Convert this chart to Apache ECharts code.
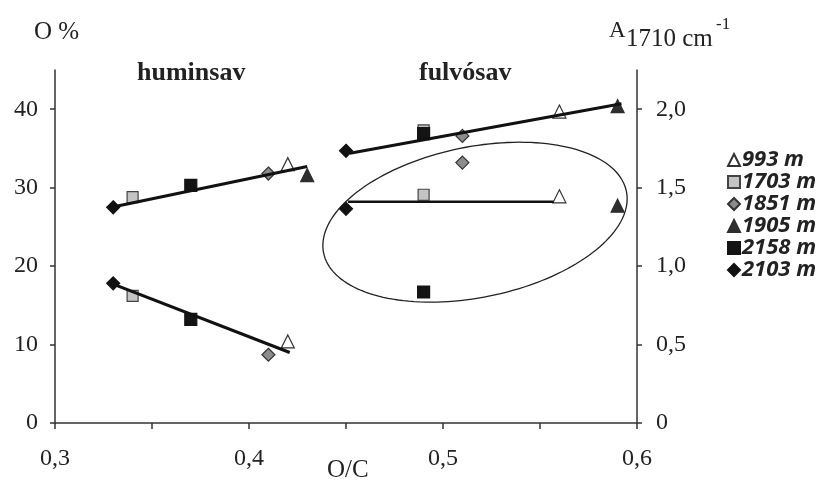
<!DOCTYPE html>
<html>
<head>
<meta charset="utf-8">
<script src="https://cdn.jsdelivr.net/npm/echarts@6/dist/echarts.min.js"></script>
<style>
  html, body { margin: 0; padding: 0; background: #fff; }
  #chart { width: 824px; height: 484px; }
</style>
</head>
<body>
<div id="chart"></div>
<script>
// Sampling depths (legend entries)
const sites = ['993 m', '1703 m', '1851 m', '1905 m', '2158 m', '2103 m'];

// Humic acid (huminsav): O/C ratio, oxygen content (O %) and A(1710 cm-1) per site
const ocHumin = [0.42, 0.34, 0.41, 0.43, 0.37, 0.33];
const oHumin  = [33.0, 28.8, 31.8, 31.6, 30.3, 27.5];
const aHumin  = [0.52, 0.81, 0.435, null, 0.66, 0.89];

// Fulvic acid (fulvósav): O/C ratio, oxygen content (O %) and A(1710 cm-1) per site
const ocFulvo = [0.56, 0.49, 0.51, 0.59, 0.49, 0.45];
const oFulvo  = [39.7, 37.3, 36.6, 40.4, 36.9, 34.7];
const aFulvo  = [1.445, 1.455, 1.66, 1.385, 0.835, 1.365];

// Fitted trend lines (end points)
const trendHuminO = [[0.331, 27.6], [0.430, 32.7]];
const trendHuminA = [[0.329, 0.89], [0.421, 0.45]];
const trendFulvoO = [[0.452, 34.4], [0.592, 40.7]];
const trendFulvoA = [[0.451, 1.41], [0.557, 1.41]];

// Axis ticks
const xTicks = [0.3, 0.35, 0.4, 0.45, 0.5, 0.55, 0.6];
const xLabels = [0.3, 0.4, 0.5, 0.6];
const oTicks = [0, 10, 20, 30, 40];
const aTicks = [0, 0.5, 1.0, 1.5, 2.0];

// Marker look for each depth
const markerStyles = [
  { symbol: 'triangle', size: 13, color: '#ffffff', border: '#333' },
  { symbol: 'rect',     size: 11, color: '#c4c4c4', border: '#444' },
  { symbol: 'diamond',  size: 13, color: '#8c8c8c', border: '#333' },
  { symbol: 'triangle', size: 13, color: '#2e2e2e', border: '#2e2e2e' },
  { symbol: 'rect',     size: 12, color: '#141414', border: '#141414' },
  { symbol: 'diamond',  size: 13, color: '#111111', border: '#111111' }
];

const comma = (v, digits) => v === 0 ? '0' : v.toFixed(digits).replace('.', ',');
const serif = '"Liberation Serif", "DejaVu Serif", serif';

const series = [];
sites.forEach((name, i) => {
  const st = markerStyles[i];
  const common = {
    type: 'scatter',
    name: name,
    symbol: st.symbol,
    symbolSize: st.size,
    itemStyle: { color: st.color, borderColor: st.border, borderWidth: 1.2, opacity: 1 },
    emphasis: { disabled: true },
    z: 2
  };
  series.push(Object.assign({}, common, {
    yAxisIndex: 0,
    data: [[ocHumin[i], oHumin[i]], [ocFulvo[i], oFulvo[i]]]
  }));
  const aPts = [];
  if (aHumin[i] !== null) aPts.push([ocHumin[i], aHumin[i]]);
  if (aFulvo[i] !== null) aPts.push([ocFulvo[i], aFulvo[i]]);
  series.push(Object.assign({}, common, { yAxisIndex: 1, data: aPts }));
});

const trend = (data, axis, width) => ({
  type: 'line',
  yAxisIndex: axis,
  data: data,
  symbol: 'none',
  silent: true,
  lineStyle: { color: '#111', width: width },
  z: 3
});
series.push(trend(trendHuminO, 0, 3.2));
series.push(trend(trendHuminA, 1, 3.2));
series.push(trend(trendFulvoO, 0, 3));
series.push(trend(trendFulvoA, 1, 2.5));

const axisLineStyle = { lineStyle: { color: '#333', width: 1.5 } };
const tickStyle = { lineStyle: { color: '#333', width: 1.5 } };
const tickFont = { fontFamily: serif, fontSize: 24, color: '#222' };

const chart = echarts.init(document.getElementById('chart'), null, { renderer: 'canvas' });
chart.setOption({
  animation: false,
  backgroundColor: '#ffffff',
  grid: { left: 55, right: 187, top: 70, bottom: 61 },
  legend: {
    data: sites,
    orient: 'vertical',
    left: 722,
    top: 144,
    itemWidth: 12,
    itemHeight: 12,
    itemGap: 0,
    selectedMode: false,
    textStyle: {
      fontFamily: '"Open Sans", sans-serif',
      fontStyle: 'italic',
      fontWeight: 700,
      fontSize: 22,
      lineHeight: 21.7,
      color: '#222',
      padding: [0, 0, 0, -3]
    }
  },
  xAxis: {
    type: 'value',
    min: 0.3, max: 0.6, interval: 0.05,
    axisLine: axisLineStyle,
    axisTick: Object.assign({ customValues: xTicks, length: 6 }, tickStyle),
    axisLabel: Object.assign({
      customValues: xLabels,
      formatter: v => comma(v, 1),
      margin: 24
    }, tickFont),
    splitLine: { show: false }
  },
  yAxis: [
    {
      type: 'value',
      min: 0, max: 45, interval: 10,
      axisLine: Object.assign({ show: true }, axisLineStyle),
      axisTick: Object.assign({ customValues: oTicks, length: 5 }, tickStyle),
      axisLabel: Object.assign({ customValues: oTicks, margin: 17 }, tickFont),
      splitLine: { show: false }
    },
    {
      type: 'value',
      position: 'right',
      min: 0, max: 2.25, interval: 0.5,
      axisLine: Object.assign({ show: true }, axisLineStyle),
      axisTick: Object.assign({ customValues: aTicks, length: 5 }, tickStyle),
      axisLabel: Object.assign({
        customValues: aTicks,
        formatter: v => comma(v, 1),
        margin: 19
      }, tickFont),
      splitLine: { show: false }
    }
  ],
  series: series
});

// Titles, axis names and the ellipse that groups the fulvic-acid absorbance points
const ellipseCenter = [0.5165, 1.28];
const c = chart.convertToPixel({ xAxisIndex: 0, yAxisIndex: 1 }, ellipseCenter);
const semiA = 154.5, semiB = 75.3, tilt = 11.5 * Math.PI / 180;
const ring = [];
for (let k = 0; k < 160; k++) {
  const t = 2 * Math.PI * k / 160;
  const ex = semiA * Math.cos(t), ey = semiB * Math.sin(t);
  ring.push([
    c[0] + ex * Math.cos(tilt) + ey * Math.sin(tilt),
    c[1] - ex * Math.sin(tilt) + ey * Math.cos(tilt)
  ]);
}

const txt = (text, x, y, size, extra) => ({
  type: 'text',
  left: x, top: y,
  style: Object.assign({ text: text, fontFamily: serif, fontSize: size, fill: '#222' }, extra || {})
});

chart.setOption({
  graphic: [
    {
      type: 'polygon',
      shape: { points: ring },
      style: { fill: 'none', stroke: '#222', lineWidth: 1.3 },
      silent: true,
      z: 1
    },
    txt('huminsav', 137, 60, 26, { fontWeight: 'bold' }),
    txt('fulvósav', 419, 60, 26, { fontWeight: 'bold' }),
    txt('O %', 34, 20, 25),
    txt('A', 609, 19, 23),
    txt('1710 cm', 626, 27, 25),
    txt('-1', 716, 16, 17),
    txt('O/C', 327, 458, 25)
  ]
});
</script>
</body>
</html>
